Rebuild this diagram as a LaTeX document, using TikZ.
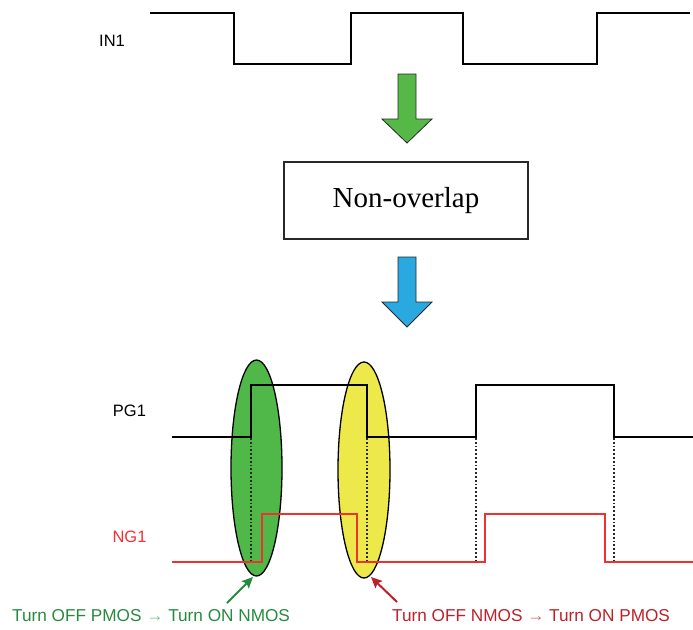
\documentclass[tikz,border=0pt]{standalone}
\usepackage{fontspec}
\setmainfont{Liberation Sans}
\newfontfamily\boxfont{Liberation Serif}
\usetikzlibrary{arrows.meta,shapes.geometric}
\definecolor{ellgreen}{RGB}{80,184,72}
\definecolor{ellyellow}{RGB}{238,233,74}
\definecolor{arrgreen}{RGB}{86,185,71}
\definecolor{arrblue}{RGB}{41,169,224}
\definecolor{txtgreen}{RGB}{38,138,62}
\definecolor{txtred}{RGB}{190,32,40}
\definecolor{sigred}{RGB}{238,50,50}
\definecolor{outline}{RGB}{40,40,40}
\tikzset{
  wave/.style={line width=1.4pt, line join=miter},
  redwave/.style={wave, draw=sigred},
  guide/.style={line width=1.7pt, dash pattern=on 1.8pt off 2pt, draw=outline},
  lbl/.style={font=\fontsize{16.5}{19}\selectfont, inner sep=0pt},
  note/.style={font=\fontsize{17.2}{20}\selectfont, inner sep=0pt},
  blob/.style={ellipse, draw=black, line width=1.3pt, inner sep=0pt},
  blockarrow/.style={draw=outline, line width=0.8pt, line join=miter},
  pointer/.style={line width=2pt, -{Stealth[length=11pt,width=10pt,inset=2pt]}}
}
\begin{document}
\begin{tikzpicture}[x=1pt,y=-1pt]
\useasboundingbox (0,0) rectangle (693,629);

% IN1
\node[lbl] (in1) at (112,41) {IN1};
\draw[wave] (150,13) -- (234,13) -- (234,64) -- (351,64) -- (351,13) -- (463,13)
  -- (463,64) -- (597,64) -- (597,13) -- (690,13);

% green block arrow
\draw[blockarrow, fill=arrgreen] (398,74) -- (416,74) -- (416,119) -- (432,119)
  -- (407,143) -- (382,119) -- (398,119) -- cycle;

% box
\node[draw=outline, line width=1.3pt, minimum width=244pt, minimum height=77pt, inner sep=0pt,
  font=\boxfont\fontsize{29}{33}\selectfont] (nov) at (406,200.5) {Non-overlap};

% blue block arrow
\draw[blockarrow, fill=arrblue] (398,257) -- (416,257) -- (416,302) -- (432,302)
  -- (407,327) -- (382,302) -- (398,302) -- cycle;

% ellipses
\node[blob, fill=ellgreen, minimum width=51pt, minimum height=216pt] (gell) at (256.5,468) {};
\node[blob, fill=ellyellow, minimum width=52pt, minimum height=216pt] (yell) at (364,470) {};

% guides
\draw[guide] (251,438) -- (251,562);
\draw[guide] (367,438) -- (367,562);
\draw[guide] (476,438) -- (476,562);
\draw[guide] (614,438) -- (614,562);

% PG1
\node[lbl] (pg1) at (129.5,411) {PG1};
\draw[wave] (172,437) -- (251,437) -- (251,385) -- (367,385) -- (367,437) -- (476,437)
  -- (476,385) -- (614,385) -- (614,437) -- (693,437);

% NG1
\node[lbl, text=sigred] (ng1) at (129.5,537) {NG1};
\draw[redwave] (172,562) -- (262,562) -- (262,514) -- (357,514) -- (357,562) -- (485,562)
  -- (485,514) -- (605,514) -- (605,562) -- (693,562);

% notes
\node[note, text=txtgreen, anchor=west] (gnote) at (12,616) {Turn OFF PMOS \textcolor{txtgreen!60}{→} Turn ON NMOS};
\node[note, text=txtred, anchor=west] (rnote) at (392,616) {Turn OFF NMOS \textcolor{txtred!70}{→} Turn ON PMOS};
\coordinate (gtail) at (227,603);
\coordinate (gtip) at (253,577);
\coordinate (rtail) at (397,602);
\coordinate (rtip) at (371,577);
\draw[pointer, draw=txtgreen, fill=txtgreen] (gtail) -- (gtip);
\draw[pointer, draw=txtred, fill=txtred] (rtail) -- (rtip);
\end{tikzpicture}
\end{document}
